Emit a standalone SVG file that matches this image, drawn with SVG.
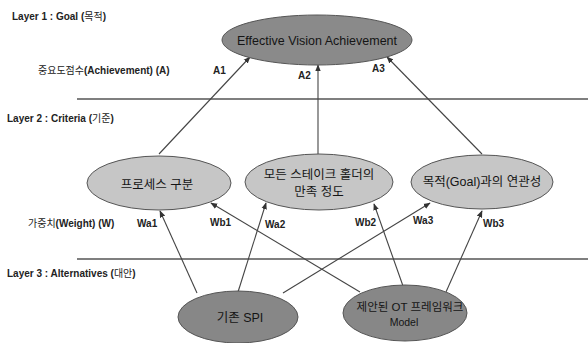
<svg xmlns="http://www.w3.org/2000/svg" width="588" height="343" viewBox="0 0 588 343">
<defs>
<marker id="arr" viewBox="0 0 10 10" refX="9" refY="5" markerWidth="7" markerHeight="7" orient="auto" markerUnits="userSpaceOnUse">
<path d="M0,1 L10,5 L0,9 z" fill="#333"/>
</marker>
</defs>
<style>
.lbl{font-family:"Liberation Sans","Noto Sans CJK KR",sans-serif;font-size:10px;font-weight:bold;fill:#222}
.ko{font-weight:normal}
.nt{font-family:"Liberation Sans","Noto Sans CJK KR",sans-serif;font-size:12.5px;fill:#151515;text-anchor:middle}
.sep{stroke:#555;stroke-width:1.5}
.edge{stroke:#444;stroke-width:1.1;fill:none;marker-end:url(#arr)}
.goal{fill:#8a8a8a;stroke:#555;stroke-width:1}
.crit{fill:#c6c6c6;stroke:#555;stroke-width:1}
.alt{fill:#878787;stroke:#555;stroke-width:1}
</style>
<rect width="588" height="343" fill="#fff"/>
<g id="layers">
<line class="sep" x1="77" y1="99" x2="588" y2="99"/>
<line class="sep" x1="77" y1="259" x2="588" y2="259"/>
<text class="lbl" x="12" y="20">Layer 1 : Goal (<tspan class="ko">목적</tspan>)</text>
<text class="lbl" x="7" y="122">Layer 2 : Criteria (<tspan class="ko">기준</tspan>)</text>
<text class="lbl" x="7" y="277">Layer 3 : Alternatives (<tspan class="ko">대안</tspan>)</text>
<text class="lbl" x="38" y="74"><tspan class="ko">중요도점수</tspan>(Achievement) (A)</text>
<text class="lbl" x="28" y="227"><tspan class="ko">가중치</tspan>(Weight) (W)</text>
</g>
<g id="connectors">
<line class="edge" x1="159" y1="154" x2="250" y2="57"/>
<line class="edge" x1="318" y1="154" x2="318" y2="65"/>
<line class="edge" x1="482" y1="154" x2="387" y2="57"/>
<line class="edge" x1="197" y1="293" x2="160" y2="211"/>
<line class="edge" x1="360" y1="292" x2="211" y2="203"/>
<line class="edge" x1="238" y1="292" x2="266" y2="203"/>
<line class="edge" x1="403" y1="286" x2="374" y2="204"/>
<line class="edge" x1="283" y1="293" x2="430" y2="203"/>
<line class="edge" x1="446" y1="292" x2="482" y2="211"/>
<text class="lbl" x="213" y="74">A1</text>
<text class="lbl" x="298" y="79">A2</text>
<text class="lbl" x="372" y="72">A3</text>
<text class="lbl" x="137" y="227">Wa1</text>
<text class="lbl" x="210" y="226">Wb1</text>
<text class="lbl" x="265" y="228">Wa2</text>
<text class="lbl" x="355" y="226">Wb2</text>
<text class="lbl" x="413" y="224">Wa3</text>
<text class="lbl" x="483" y="227">Wb3</text>
</g>
<g id="goal">
<ellipse class="goal" cx="317" cy="40" rx="95" ry="25"/>
<text class="nt" x="317" y="45">Effective Vision Achievement</text>
</g>
<g id="crit1">
<ellipse class="crit" cx="159" cy="183" rx="72" ry="27"/>
<text class="nt" x="157" y="189">프로세스 구분</text>
</g>
<g id="crit2">
<ellipse class="crit" cx="319" cy="182" rx="74" ry="28"/>
<text class="nt" x="319" y="179">모든 스테이크 홀더의</text>
<text class="nt" x="319" y="196">만족 정도</text>
</g>
<g id="crit3">
<ellipse class="crit" cx="482" cy="182" rx="71" ry="27"/>
<text class="nt" x="482" y="186">목적(Goal)과의 연관성</text>
</g>
<g id="alt1">
<ellipse class="alt" cx="238" cy="317" rx="60" ry="26"/>
<text class="nt" x="240" y="322">기존 SPI</text>
</g>
<g id="alt2">
<ellipse class="alt" cx="405" cy="313" rx="62" ry="28"/>
<text class="nt" x="410" y="311" style="font-size:11.5px">제안된 OT 프레임워크</text>
<text class="nt" x="404" y="326" style="font-size:10.5px">Model</text>
</g>
</svg>
